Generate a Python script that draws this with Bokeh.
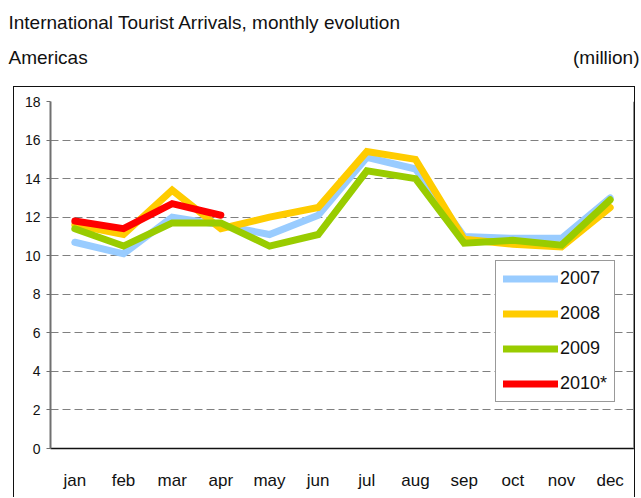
from bokeh.plotting import figure
from bokeh.layouts import column
from bokeh.models import (FactorRange, Range1d, FixedTicker, Legend, LegendItem,
                          Label, Span)
from bokeh.embed import file_html
from bokeh.resources import INLINE

months = ["jan", "feb", "mar", "apr", "may", "jun", "jul", "aug", "sep", "oct", "nov", "dec"]
v2007 = [10.7, 10.1, 12.0, 11.6, 11.1, 12.1, 15.1, 14.5, 11.0, 10.9, 10.9, 13.0]
v2008 = [11.6, 11.1, 13.4, 11.4, 12.0, 12.5, 15.4, 15.0, 10.85, 10.6, 10.45, 12.5]
v2009 = [11.4, 10.5, 11.7, 11.7, 10.5, 11.1, 14.4, 14.0, 10.65, 10.8, 10.55, 12.9]
months2010 = ["jan", "feb", "mar", "apr"]
v2010 = [11.8, 11.4, 12.7, 12.1]
y_ticks = [0, 2, 4, 6, 8, 10, 12, 14, 16, 18]

FONT = "Liberation Sans"
TXT = "#111111"

# ---- heading strip ----
t = figure(width=641, height=86, x_range=Range1d(0, 641), y_range=Range1d(86, 0),
           output_backend="svg", toolbar_location=None,
           x_axis_location=None, y_axis_location=None,
           min_border=0, min_border_left=0, min_border_right=0,
           min_border_top=0, min_border_bottom=0)
t.frame_align = False
t.grid.visible = False
t.outline_line_color = None
for txt, x, y, align in [("International Tourist Arrivals, monthly evolution", 8, 22, "left"),
                         ("Americas", 8, 57, "left"),
                         ("(million)", 639, 57, "right")]:
    t.add_layout(Label(x=x, y=y, text=txt, text_font=FONT, text_font_size="19px",
                       text_color=TXT, text_align=align, text_baseline="alphabetic"))

# ---- chart ----
p = figure(width=622, height=411, x_range=FactorRange(factors=months, range_padding=0),
           y_range=Range1d(0, 18), output_backend="svg", toolbar_location=None,
           min_border_left=36, min_border_right=2, min_border_top=14, min_border_bottom=50)
p.frame_align = False
p.margin = (0, 0, 0, 13)
p.styles = {"border-top": "1px solid #111111", "border-left": "1px solid #111111",
            "border-right": "1px solid #111111"}
p.outline_line_color = None

p.xgrid.grid_line_color = None
p.ygrid.grid_line_color = "#808080"
p.ygrid.grid_line_dash = "8 4"
p.ygrid.grid_line_width = 1

p.yaxis.ticker = FixedTicker(ticks=y_ticks)
p.yaxis.axis_line_color = "#707070"
p.yaxis.axis_line_width = 2
p.yaxis.major_tick_line_color = "#707070"
p.yaxis.major_tick_out = 4
p.yaxis.major_tick_in = 0
p.yaxis.minor_tick_line_color = None
p.yaxis.major_label_text_font = FONT
p.yaxis.major_label_text_font_size = "14px"
p.yaxis.major_label_text_color = TXT
p.yaxis.major_label_standoff = 6

p.xaxis.axis_line_color = "#111111"
p.xaxis.axis_line_width = 1.5
p.xaxis.major_tick_line_color = None
p.xaxis.major_tick_out = 0
p.xaxis.major_tick_in = 0
p.xaxis.minor_tick_line_color = None
p.xaxis.major_label_text_font = FONT
p.xaxis.major_label_text_font_size = "17px"
p.xaxis.major_label_text_color = TXT
p.xaxis.major_label_standoff = 22

p.add_layout(Span(location=12, dimension="height", line_color="#909090", line_width=3))

series = [("2007", months, v2007, "#99CCFF"),
          ("2008", months, v2008, "#FFCC00"),
          ("2009", months, v2009, "#99CC00"),
          ("2010*", months2010, v2010, "#FF0000")]
items = []
for name, xs, ys, col in series:
    r = p.line(xs, ys, line_color=col, line_width=7, line_cap="round", line_join="miter")
    items.append(LegendItem(label=name, renderers=[r]))

legend = Legend(items=items, location=(445, 46), padding=7, spacing=14,
                glyph_width=55, glyph_height=21, label_height=21, label_standoff=2,
                label_text_font=FONT, label_text_font_size="18px", label_text_color=TXT,
                border_line_color="#333333", border_line_width=1, background_fill_alpha=1,
                margin=0)
p.add_layout(legend, "center")

layout = column(t, p, spacing=0)
open("out.html", "w").write(file_html(layout, INLINE))
